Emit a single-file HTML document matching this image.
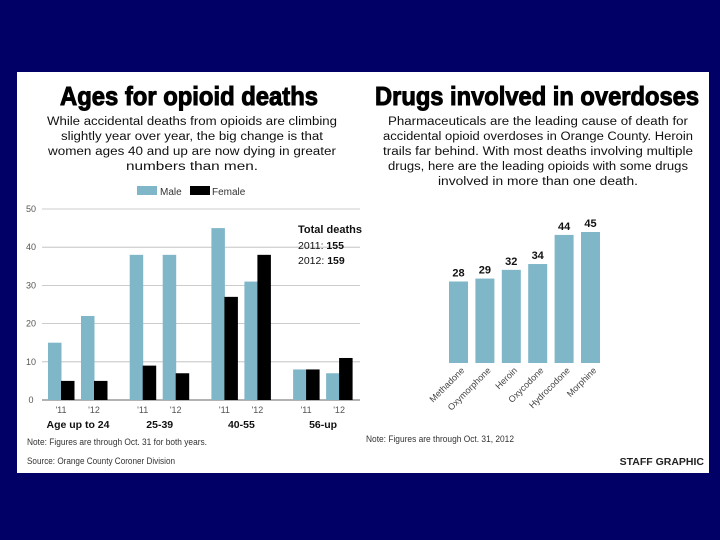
<!DOCTYPE html>
<html><head><meta charset="utf-8"><style>
html,body{margin:0;padding:0;background:#000066;}
svg{display:block;font-family:"Liberation Sans",sans-serif;}
</style></head><body>
<svg id="s" width="720" height="540" viewBox="0 0 720 540">
<rect x="0" y="0" width="720" height="540" fill="#000066"/>
<rect x="17" y="72" width="692" height="401" fill="#ffffff"/>
<text x="60" y="105" font-size="26" font-weight="bold" textLength="258" lengthAdjust="spacingAndGlyphs" fill="#000" stroke="#000" stroke-width="1">Ages for opioid deaths</text>
<g font-size="11.5" fill="#111" text-anchor="middle">
<text x="192" y="125" textLength="290" lengthAdjust="spacingAndGlyphs">While accidental deaths from opioids are climbing</text>
<text x="192" y="140" textLength="262" lengthAdjust="spacingAndGlyphs">slightly year over year, the big change is that</text>
<text x="192" y="155" textLength="288" lengthAdjust="spacingAndGlyphs">women ages 40 and up are now dying in greater</text>
<text x="192" y="170" textLength="132" lengthAdjust="spacingAndGlyphs">numbers than men.</text>
</g>
<text x="375" y="105" font-size="26" font-weight="bold" textLength="324" lengthAdjust="spacingAndGlyphs" fill="#000" stroke="#000" stroke-width="1">Drugs involved in overdoses</text>
<g font-size="11.5" fill="#111" text-anchor="middle">
<text x="538" y="125" textLength="300" lengthAdjust="spacingAndGlyphs">Pharmaceuticals are the leading cause of death for</text>
<text x="538" y="140" textLength="310" lengthAdjust="spacingAndGlyphs">accidental opioid overdoses in Orange County. Heroin</text>
<text x="538" y="155" textLength="310" lengthAdjust="spacingAndGlyphs">trails far behind. With most deaths involving multiple</text>
<text x="538" y="170" textLength="300" lengthAdjust="spacingAndGlyphs">drugs, here are the leading opioids with some drugs</text>
<text x="538" y="185" textLength="200" lengthAdjust="spacingAndGlyphs">involved in more than one death.</text>
</g>
<g>
<rect x="137" y="186" width="20" height="9" fill="#7fb7c9"/>
<text x="160" y="195" font-size="10" fill="#333">Male</text>
<rect x="190" y="186" width="20" height="9" fill="#000"/>
<text x="212" y="195" font-size="10" fill="#333">Female</text>
</g>
<g id="left"></g>
<g>
<text x="298" y="233" font-size="11" font-weight="bold" fill="#111">Total deaths</text>
<text x="298" y="249" font-size="10.5" fill="#111">2011: <tspan font-weight="bold">155</tspan></text>
<text x="298" y="264" font-size="10.5" fill="#111">2012: <tspan font-weight="bold">159</tspan></text>
</g>
<text x="27" y="445" font-size="9" fill="#333" textLength="180" lengthAdjust="spacingAndGlyphs">Note: Figures are through Oct. 31 for both years.</text>
<text x="27" y="464" font-size="9" fill="#333" textLength="148" lengthAdjust="spacingAndGlyphs">Source: Orange County Coroner Division</text>
<g id="right"></g>
<text x="366" y="442" font-size="9" fill="#333" textLength="148" lengthAdjust="spacingAndGlyphs">Note: Figures are through Oct. 31, 2012</text>
<text x="704" y="465" font-size="10.5" font-weight="bold" fill="#222" text-anchor="end">STAFF GRAPHIC</text>
</svg>
<script>
const ageGroups = ["Age up to 24","25-39","40-55","56-up"];
const yearLabels = ["'11","'12"];
const maleValues = [15,22,38,38,45,31,8,7];
const femaleValues = [5,5,9,7,27,38,8,11];
const yTicks = [0,10,20,30,40,50];
const drugNames = ["Methadone","Oxymorphone","Heroin","Oxycodone","Hydrocodone","Morphine"];
const drugValues = [28,29,32,34,44,45];

const NS="http://www.w3.org/2000/svg";
function mk(tag,attrs,parent,txt){const e=document.createElementNS(NS,tag);for(const k in attrs)e.setAttribute(k,attrs[k]);if(txt!==undefined)e.textContent=txt;parent.appendChild(e);return e;}

const L=document.getElementById('left');
const y0=400, yTop=209, yMax=50;
const yL=v=>y0-(v/yMax)*(y0-yTop);
const xBar=i=>{const g=Math.floor(i/2),k=i%2;return 48+g*81.7+k*33;};
yTicks.forEach(t=>{
  const ln=mk('line',{x1:42,x2:360,y1:yL(t),y2:yL(t),stroke:t===0?'#999':'#bbb','stroke-width':t===0?1.5:0.8},L);
  
  
  const tx=mk('text',{x:31,y:yL(t)+3,'font-size':9,fill:'#555','text-anchor':'middle'},L,String(t));
  
  
});
maleValues.forEach((v,i)=>{
  const x=xBar(i);
  const r=mk('rect',{x:x,y:yL(v),width:13.5,height:y0-yL(v),fill:'#7fb7c9'},L);
  
  
  const f=femaleValues[i];
  const r2=mk('rect',{x:x+13,y:yL(f),width:13.5,height:y0-yL(f),fill:'#000'},L);
  
  
  const yl=mk('text',{x:x+13,y:413,'font-size':9,fill:'#555','text-anchor':'middle'},L,yearLabels[i%2]);
  
  
});
ageGroups.forEach((g,j)=>{
  const cx=(xBar(j*2)+xBar(j*2+1)+27)/2;
  const t=mk('text',{x:cx,y:428,'font-size':10.5,'font-weight':'bold',fill:'#111','text-anchor':'middle'},L,g);
  
  
});

const R=document.getElementById('right');
const rb=363, rMax=45, rTopY=232;
const yR=v=>rb-(v/rMax)*(rb-rTopY);
const xR=i=>449+i*26.4;
drugValues.forEach((v,i)=>{
  const x=xR(i);
  const r=mk('rect',{x:x,y:yR(v),width:19,height:rb-yR(v),fill:'#7fb7c9'},R);
  
  
  const t=mk('text',{x:x+9.5,y:yR(v)-5,'font-size':11,'font-weight':'bold',fill:'#111','text-anchor':'middle'},R,String(v));
  
  
  const n=mk('text',{x:x+16,y:rb+8,'font-size':9,fill:'#444','text-anchor':'end',transform:'rotate(-45 '+(x+16)+' '+(rb+8)+')'},R,drugNames[i]);
  
  
});
</script>
</body></html>
